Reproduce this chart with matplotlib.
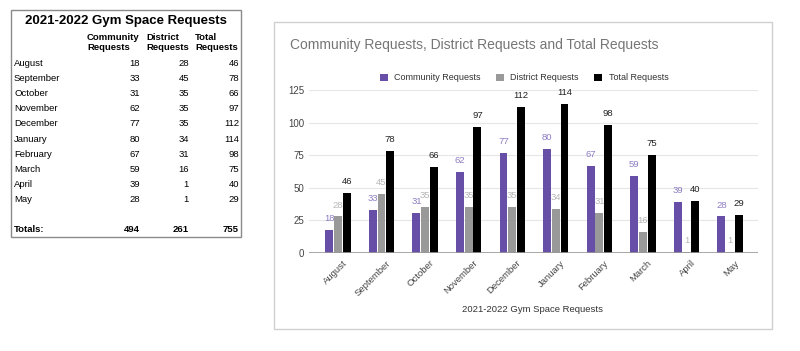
import numpy as np
import matplotlib
matplotlib.use('Agg')
import matplotlib.pyplot as plt
from matplotlib.patches import Rectangle

plt.rcParams['font.family'] = ['Liberation Sans', 'DejaVu Sans']

# dati
months = ['August', 'September', 'October', 'November', 'December',
          'January', 'February', 'March', 'April', 'May']
community = [18, 33, 31, 62, 77, 80, 67, 59, 39, 28]
district = [28, 45, 35, 35, 35, 34, 31, 16, 1, 1]
total = [46, 78, 66, 97, 112, 114, 98, 75, 40, 29]
yticks = [0, 25, 50, 75, 100, 125]

W, H = 800, 351
fig = plt.figure(figsize=(W / 100, H / 100), dpi=100)
fig.patch.set_facecolor('white')

def fx(px):
    return px / W

def fy(py):
    return 1 - py / H

# ---- tabella a sinistra ----
fig.patches.append(Rectangle((fx(11), fy(237)), fx(241) - fx(11), fy(10) - fy(237),
                             transform=fig.transFigure, fill=False,
                             edgecolor='#8a8a8a', linewidth=1.0))
fig.text(fx(126), fy(21), '2021-2022 Gym Space Requests', ha='center', va='center',
         fontsize=9.5, fontweight='bold')
cols_x = [140, 189, 239]
head_x = [87, 146, 195]
for hx, h in zip(head_x, ['Community\nRequests', 'District\nRequests', 'Total\nRequests']):
    fig.text(fx(hx), fy(42.5), h, ha='left', va='center', fontsize=6.8,
             fontweight='bold', linespacing=1.1)
for i, m in enumerate(months):
    y = fy(63 + i * 15.2)
    fig.text(fx(14), y, m, ha='left', va='center', fontsize=6.8)
    for cx, v in zip(cols_x, [community[i], district[i], total[i]]):
        fig.text(fx(cx), y, str(v), ha='right', va='center', fontsize=6.8)
fig.text(fx(14), fy(230), 'Totals:', ha='left', va='center', fontsize=6.8, fontweight='bold')
for cx, v in zip(cols_x, [sum(community), sum(district), sum(total)]):
    fig.text(fx(cx), fy(230), str(v), ha='right', va='center', fontsize=6.8, fontweight='bold')

# ---- grafico a destra ----
fig.patches.append(Rectangle((fx(274), fy(329)), fx(772) - fx(274), fy(22) - fy(329),
                             transform=fig.transFigure, fill=False,
                             edgecolor='#d0d0d0', linewidth=1.0))
fig.text(fx(290), fy(45), 'Community Requests, District Requests and Total Requests',
         ha='left', va='center', fontsize=10, color='#757575')

ax = fig.add_axes((fx(309), fy(253), fx(758) - fx(309), fy(90) - fy(253)))
x = np.arange(len(months))
w = 0.18
c_com, c_dis, c_tot = '#674ea7', '#999999', '#000000'
b1 = ax.bar(x - 0.2, community, w, color=c_com, label='Community Requests', zorder=3)
b2 = ax.bar(x, district, w, color=c_dis, label='District Requests', zorder=3)
b3 = ax.bar(x + 0.2, total, w, color=c_tot, label='Total Requests', zorder=3)

for bars, vals, col in [(b1, community, '#8e7cc3'), (b2, district, '#b7b7b7'), (b3, total, '#222222')]:
    for b, v in zip(bars, vals):
        ax.annotate(str(v), (b.get_x() + b.get_width() / 2, v), xytext=(0, 5),
                    textcoords='offset points', ha='center', va='bottom',
                    fontsize=6.8, color=col, annotation_clip=False, zorder=4)

ax.set_xlim(-0.665, 9.64)
ax.set_ylim(0, 125)
ax.set_yticks(yticks)
ax.grid(axis='y', color='#e6e6e6', linewidth=0.8, zorder=0)
ax.axhline(0, color='#999999', linewidth=1.2, zorder=4)
for s in ax.spines.values():
    s.set_visible(False)
ax.tick_params(axis='both', length=0, labelsize=7, colors='#444444')
ax.tick_params(axis='y', pad=3.5)
ax.set_xticks(x + 0.1)
ax.set_xticklabels(months, rotation=45, ha='right', rotation_mode='anchor', fontsize=6.8)
ax.tick_params(axis='x', pad=4)
fig.text(fx(533), fy(310), '2021-2022 Gym Space Requests', ha='center', va='center',
         fontsize=6.8, color='#333333')

ax.legend(loc='center', bbox_to_anchor=(fx(524), fy(78)), bbox_transform=fig.transFigure,
          ncol=3, frameon=False, fontsize=6.5, handlelength=0.9, handleheight=0.9,
          columnspacing=1.7, handletextpad=0.7, labelcolor='#333333')

fig.savefig('out.png', dpi=100)
